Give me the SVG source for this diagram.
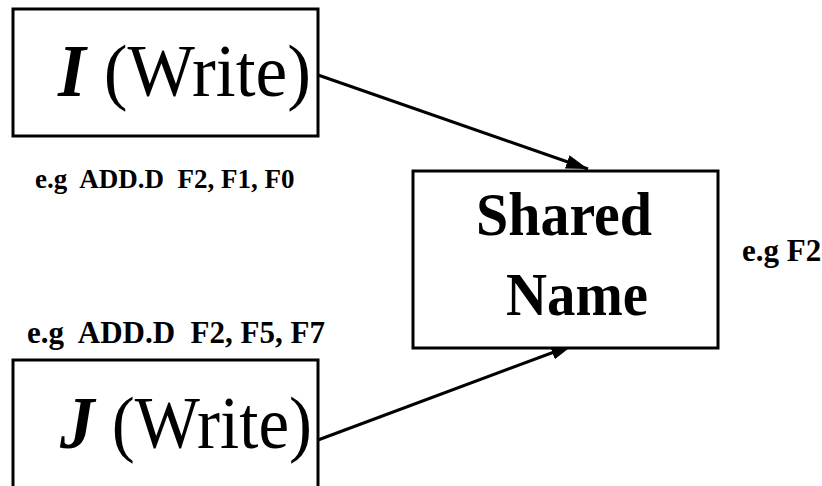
<svg xmlns="http://www.w3.org/2000/svg" width="822" height="486" viewBox="0 0 822 486">
<style>
.box{fill:#fff;stroke:#000;stroke-width:3}
.conn{stroke:#000;stroke-width:3;fill:none}
</style>
<defs>
<marker id="ah" markerWidth="22" markerHeight="14" refX="22" refY="7" orient="auto" markerUnits="userSpaceOnUse" viewBox="0 0 22 14">
<path d="M0,0 L22,7 L0,14 Z" fill="#000"/>
</marker>
</defs>
<rect width="822" height="486" fill="#fff"/>
<g id="connectors">
<line class="conn" x1="318" y1="75" x2="588" y2="169" marker-end="url(#ah)"/>
<line class="conn" x1="318" y1="440" x2="573" y2="345" marker-end="url(#ah)"/>
</g>
<g id="nodeI">
<rect class="box" x="13" y="9" width="305" height="127"/>
<text x="58" y="96" font-family="Liberation Serif" font-size="74" textLength="253" lengthAdjust="spacingAndGlyphs"><tspan font-weight="bold" font-style="italic">I</tspan> (Write)</text>
</g>
<g id="nodeJ">
<rect class="box" x="13" y="360" width="305" height="140"/>
<text x="60" y="448" font-family="Liberation Serif" font-size="74" textLength="252" lengthAdjust="spacingAndGlyphs"><tspan font-weight="bold" font-style="italic">J</tspan> (Write)</text>
</g>
<g id="nodeShared">
<rect class="box" x="413" y="171" width="305" height="177"/>
<text x="476" y="235" font-family="Liberation Serif" font-size="62" font-weight="bold" textLength="176" lengthAdjust="spacingAndGlyphs">Shared</text>
<text x="506" y="315" font-family="Liberation Serif" font-size="62" font-weight="bold" textLength="142" lengthAdjust="spacingAndGlyphs">Name</text>
</g>
<g id="labels" font-family="Liberation Serif" font-weight="bold">
<text x="35" y="188" font-size="27" xml:space="preserve">e.g  ADD.D  F2, F1, F0</text>
<text x="27" y="343" font-size="31" xml:space="preserve">e.g  ADD.D  F2, F5, F7</text>
<text x="742" y="261" font-size="31">e.g F2</text>
</g>
</svg>
